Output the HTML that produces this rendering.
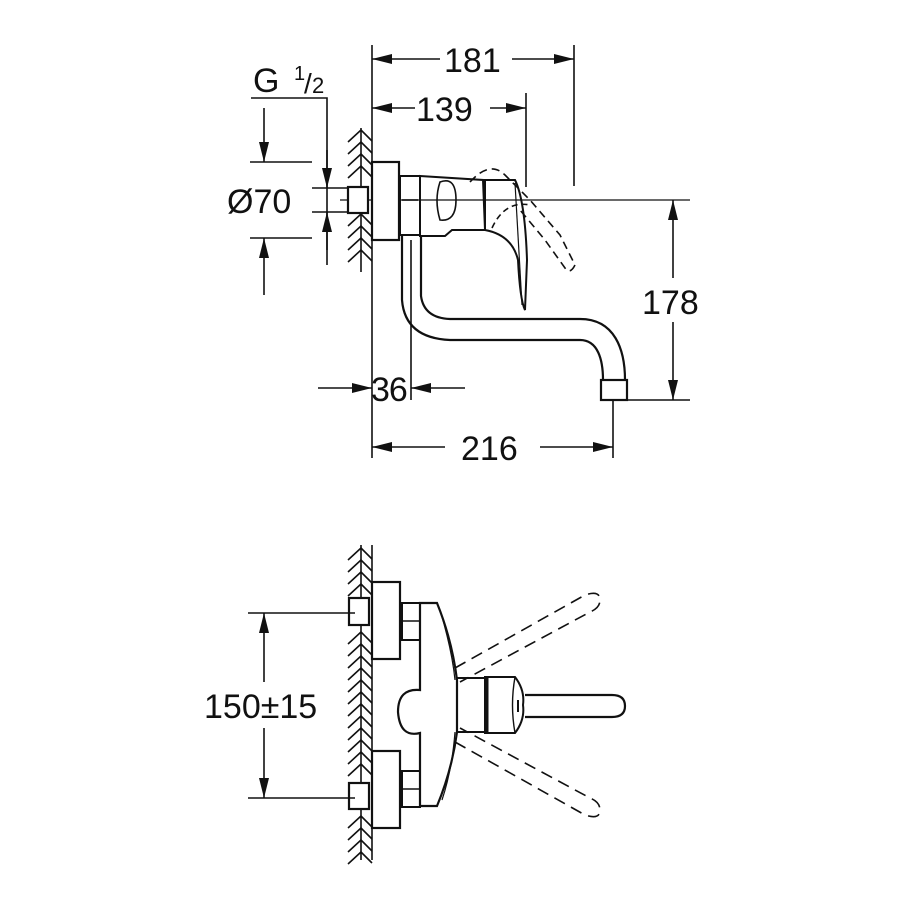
<!DOCTYPE html>
<html><head><style>
html,body{margin:0;padding:0;background:#fff;}
svg{display:block;}
text{font-family:"Liberation Sans",sans-serif;fill:#111;}
</style></head><body>
<svg width="921" height="921" viewBox="0 0 921 921" xmlns="http://www.w3.org/2000/svg">
<defs>
<marker id="a" viewBox="0 0 20 10" refX="20" refY="5" markerWidth="20" markerHeight="10" markerUnits="userSpaceOnUse" orient="auto"><path d="M0,0 L20,5 L0,10 z" fill="#111"/></marker>
<g id="chev"><path d="M348,12 L361,0 L372,11" fill="none" stroke="#111" stroke-width="1.6"/></g>
</defs>
<g stroke="#111" stroke-width="1.6" fill="none">
<line x1="372" y1="45" x2="372" y2="458"/>
<line x1="574" y1="45" x2="574" y2="186"/>
<line x1="526" y1="93" x2="526" y2="187"/>
<line x1="440" y1="59" x2="372" y2="59" marker-end="url(#a)"/>
<line x1="512" y1="59" x2="574" y2="59" marker-end="url(#a)"/>
<line x1="415" y1="108" x2="372" y2="108" marker-end="url(#a)"/>
<line x1="490" y1="108" x2="526" y2="108" marker-end="url(#a)"/>
<polyline points="251,98 327,98 327,265"/>
<line x1="250" y1="162" x2="312" y2="162"/>
<line x1="250" y1="238" x2="312" y2="238"/>
<line x1="264" y1="108" x2="264" y2="162" marker-end="url(#a)"/>
<line x1="264" y1="295" x2="264" y2="238" marker-end="url(#a)"/>
<line x1="312" y1="188" x2="352" y2="188"/>
<line x1="312" y1="212" x2="352" y2="212"/>
<line x1="327" y1="150" x2="327" y2="188" marker-end="url(#a)"/>
<line x1="327" y1="250" x2="327" y2="212" marker-end="url(#a)"/>
<line x1="340" y1="200" x2="690" y2="200" stroke-width="1.2"/>
<line x1="361" y1="128" x2="361" y2="272"/>
<g>
<use href="#chev" y="130"/><use href="#chev" y="142"/><use href="#chev" y="154"/><use href="#chev" y="166"/>
<use href="#chev" y="214"/><use href="#chev" y="226"/><use href="#chev" y="238"/><use href="#chev" y="250"/>
</g>
<rect x="348" y="187" width="20" height="26" stroke-width="2.2" fill="#fff"/>
<rect x="372" y="162" width="27" height="78" stroke-width="2.2" fill="#fff"/>
<rect x="400" y="176" width="20" height="59" stroke-width="2"/>
<line x1="402" y1="200" x2="418" y2="200"/>
<path d="M420,176 L483,180 L485,230 L452,230 L445,236 L420,236 Z" stroke-width="2"/>
<path d="M440,182 Q456,176 456,200 Q456,222 440,220 Q434,200 440,182 Z" stroke-width="1.6"/>
<path d="M485,180 L515,180 Q525,200 527,260 L525,310 Q520,300 518,260 Q512,235 485,230 Z" stroke-width="2"/>
<line x1="515" y1="183" x2="522" y2="305" stroke-width="1.2"/>
<path d="M470,182 Q490,160 505,175 L530,200 L560,235 L575,265 Q570,275 565,268 L545,240 L520,210" stroke-dasharray="8,5"/>
<path d="M492,228 Q505,200 530,205" stroke-dasharray="6,4"/>
<path d="M402,236 L402,300 Q405,338 450,340 L580,340 C598,340 603,360 603,380" stroke-width="2.2"/>
<path d="M421,236 L421,296 Q424,318 450,319 L580,319 C615,319 625,350 625,380" stroke-width="2.2"/>
<rect x="601" y="380" width="26" height="20" stroke-width="2.2" fill="#fff"/>
<line x1="411" y1="240" x2="411" y2="400"/>
<line x1="318" y1="388" x2="372" y2="388" marker-end="url(#a)"/>
<line x1="465" y1="388" x2="411" y2="388" marker-end="url(#a)"/>
<line x1="613" y1="400" x2="613" y2="458"/>
<line x1="445" y1="447" x2="372" y2="447" marker-end="url(#a)"/>
<line x1="540" y1="447" x2="613" y2="447" marker-end="url(#a)"/>
<line x1="627" y1="400" x2="690" y2="400"/>
<line x1="673" y1="278" x2="673" y2="200" marker-end="url(#a)"/>
<line x1="673" y1="322" x2="673" y2="400" marker-end="url(#a)"/>

<line x1="361" y1="545" x2="361" y2="860"/>
<line x1="372" y1="545" x2="372" y2="860"/>
<g>
<use href="#chev" y="548"/><use href="#chev" y="560"/><use href="#chev" y="572"/><use href="#chev" y="584"/>
<use href="#chev" y="632"/><use href="#chev" y="644"/><use href="#chev" y="656"/><use href="#chev" y="668"/><use href="#chev" y="680"/><use href="#chev" y="692"/><use href="#chev" y="704"/><use href="#chev" y="716"/><use href="#chev" y="728"/><use href="#chev" y="740"/><use href="#chev" y="752"/><use href="#chev" y="764"/>
<use href="#chev" y="816"/><use href="#chev" y="828"/><use href="#chev" y="840"/><use href="#chev" y="852"/>
</g>
<rect x="349" y="598" width="20" height="27" stroke-width="2.2" fill="#fff"/>
<rect x="349" y="783" width="20" height="26" stroke-width="2.2" fill="#fff"/>
<rect x="372" y="582" width="28" height="77" stroke-width="2.2" fill="#fff"/>
<rect x="372" y="751" width="28" height="77" stroke-width="2.2" fill="#fff"/>
<rect x="402" y="603" width="18" height="37" stroke-width="2"/>
<line x1="402" y1="621" x2="420" y2="621"/>
<rect x="402" y="771" width="18" height="36" stroke-width="2"/>
<line x1="402" y1="789" x2="420" y2="789"/>
<path d="M420,603 L437,603 Q452,640 457,680 L457,732 Q452,770 437,806 L420,806 L420,733 Q400,738 398,712 Q398,688 420,690 Z" stroke-width="2.2" fill="#fff"/>
<path d="M440,610 Q452,650 455,680 M455,732 Q452,770 442,800" stroke-width="1.2"/>
<rect x="457" y="678" width="28" height="54" stroke-width="2"/>
<path d="M485,677 L515,677 Q525,690 523,705 Q525,720 515,733 L485,733 Z" stroke-width="2"/>
<line x1="487" y1="677" x2="487" y2="733" stroke-width="3"/>
<path d="M515,677 Q510,705 515,733" stroke-width="1.4"/>
<line x1="518" y1="700" x2="518" y2="712" stroke-width="2"/>
<path d="M525,695 L612,695 Q625,695 625,706 Q625,717 612,717 L525,717" stroke-width="2.2"/>
<path d="M455,668 L585,595 Q600,590 600,600 Q600,608 590,612 L460,682" stroke-dasharray="12,7"/>
<path d="M455,742 L585,815 Q600,820 600,810 Q600,802 590,798 L460,728" stroke-dasharray="12,7"/>
<line x1="248" y1="613" x2="355" y2="613"/>
<line x1="248" y1="798" x2="355" y2="798"/>
<line x1="264" y1="682" x2="264" y2="613" marker-end="url(#a)"/>
<line x1="264" y1="728" x2="264" y2="798" marker-end="url(#a)"/>
</g>
<g font-size="34">
<text x="444" y="72">181</text>
<text x="416" y="121">139</text>
<text x="227" y="213">Ø70</text>
<text x="371" y="401" letter-spacing="-1">36</text>
<text x="461" y="460">216</text>
<text x="642" y="314">178</text>
<text x="204" y="718">150±15</text>
<text x="253" y="92">G</text>
<text x="294" y="80" font-size="20">1</text>
<text x="304" y="93" font-size="28">/</text>
<text x="312" y="93" font-size="22">2</text>
</g>
</svg>
</body></html>
